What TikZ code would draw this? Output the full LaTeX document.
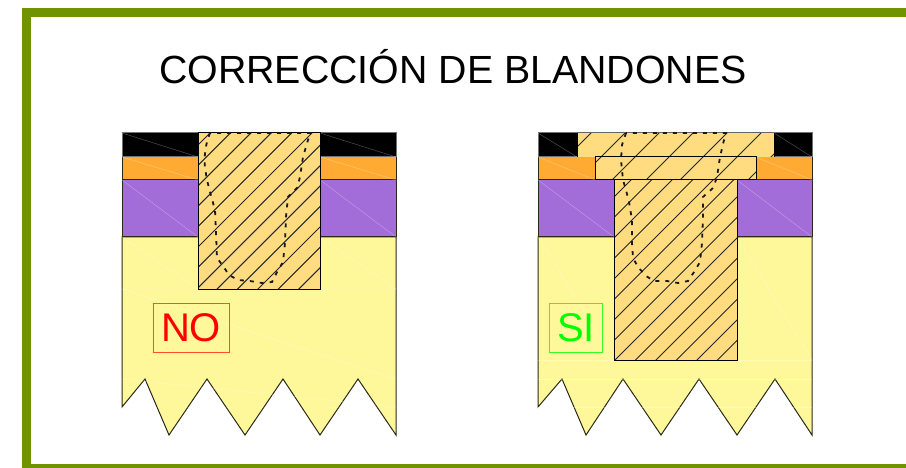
\documentclass[tikz,border=0pt]{standalone}
\usepackage{fontspec}
\setmainfont{Liberation Sans}
\definecolor{frameg}{HTML}{6F9400}
\definecolor{yel}{HTML}{FEF89A}
\definecolor{ora}{HTML}{FFAB33}
\definecolor{pur}{HTML}{A36DD9}
\definecolor{plug}{HTML}{FFDC80}
\definecolor{edge}{HTML}{2A2A1A}
\tikzset{
 layer/.style={draw=edge,line width=1pt},
 plugbox/.style={fill=plug},
 hatchline/.style={draw=black!85,line width=1pt},
 holeline/.style={draw=black!90,line width=1.8pt,dash pattern=on 4pt off 6pt},
 seam/.style={draw=white,line width=0.5pt,opacity=0.3},
 labelbox/.style={draw,line width=1pt,inner sep=0pt,minimum height=49pt,font=\fontsize{40}{40}\selectfont}
}
\begin{document}
\begin{tikzpicture}[x=1pt,y=-1pt]
\useasboundingbox (0,0) rectangle (906,468);
% frame
\fill[frameg] (22,8) rectangle (906,17.5);
\fill[frameg] (22,8) rectangle (31,468);
\fill[frameg] (22,464) rectangle (906,468);
\node[inner sep=0pt,font=\fontsize{39.3}{40}\selectfont] (title) at (453,66.5) {CORRECCIÓN DE BLANDONES};
% LEFT block
\filldraw[layer,fill=yel] (122,237) -- (122,407) -- (145,379) -- (169,435) -- (207,379) -- (245,435) -- (283,379) -- (320,435) -- (358,379) -- (396,435) -- (396,237) -- cycle;
\filldraw[layer,fill=pur] (122,180) rectangle (396,237);
\filldraw[layer,fill=ora] (122,157) rectangle (396,180);
\filldraw[layer,draw=black!55,fill=black] (122,133) rectangle (396,157);
\draw[seam] (122,237) -- (198,289) (122,133) -- (198,157) (122,157) -- (198,180) (122,180) -- (198,237);
\draw[seam] (320,133) -- (396,157) (320,157) -- (396,180) (320,180) -- (396,237) (320,237) -- (396,289);
\draw[seam] (122,289) -- (396,289) (122,289) -- (396,379) (122,379) -- (396,407) (122,407) -- (396,407);
% left plug
\fill[plugbox] (198,133) rectangle (320.5,289);
\begin{scope}
\clip (198,133) rectangle (320.5,289);
\foreach \k in {0,...,12}{
 \draw[hatchline] ({343+20.4*\k-100},100) -- ({343+20.4*\k-400},400);
}
\end{scope}
\draw[layer,draw=black] (198,133) rectangle (320.5,289);
\draw[holeline] (210,133) .. controls (205,145) and (204,158) .. (205,168) -- (207,180) -- (210,192) -- (215,210) -- (216,233) -- (217,258) -- (223,266) -- (229,275) -- (238,280) -- (250,281) -- (262,283) -- (272,282) -- (277,272) -- (283,262) -- (285,243) -- (286,217) -- (288,197) -- (297,188) -- (300,177) -- (303,157) -- (308,140) -- (311,133) -- cycle;
% RIGHT block
\filldraw[layer,fill=yel] (538,237) -- (538,407) -- (562,379) -- (586,435) -- (623,379) -- (661,435) -- (699,379) -- (737,435) -- (775,379) -- (812,435) -- (812,237) -- cycle;
\filldraw[layer,fill=pur] (538,180) rectangle (812,237);
\filldraw[layer,fill=ora] (538,157) rectangle (812,180);
\filldraw[layer,draw=black!55,fill=black] (538,133) rectangle (812,157);
\draw[seam] (538,133) -- (577,157) (538,157) -- (595,180) (538,180) -- (614,237) (538,237) -- (614,360);
\draw[seam] (774,133) -- (812,157) (756,157) -- (812,180) (737,180) -- (812,237) (737,237) -- (812,360);
\draw[seam] (538,360) -- (812,360) (538,379) -- (812,379) (538,407) -- (812,407);
% right plug
\fill[plugbox] (614,180) rectangle (737,360);
\fill[plugbox] (595,157) rectangle (756,180);
\fill[plugbox] (577,133) rectangle (774,157);
\begin{scope}
\clip (614,180) rectangle (737,360);
\foreach \k in {0,...,13}{
 \draw[hatchline] ({811+20.5*\k-100},100) -- ({811+20.5*\k-400},400);
}
\end{scope}
\begin{scope}
\clip (577,133) rectangle (774,157) (595,157) rectangle (756,180);
\foreach \k in {0,...,6}{
 \draw[hatchline] ({724+34*\k-100},100) -- ({724+34*\k-400},400);
}
\end{scope}
\draw[layer,draw=black] (614,180) rectangle (737,360);
\draw[layer,draw=black] (595,157) rectangle (756,180);
\draw[layer,draw=black!60] (577,133) -- (774,133);
\draw[layer,draw=black] (577,133) -- (577,157) (774,133) -- (774,157);
\draw[holeline] (626,133) -- (622,145) -- (621,160) -- (623,180) -- (626,190) -- (629,202) -- (632,220) -- (632,243) -- (633,258) -- (638,267) -- (646,276) -- (654,281) -- (667,281) -- (678,283) -- (688,281) -- (694,272) -- (700,262) -- (702,243) -- (703,217) -- (703,197) -- (713,188) -- (717,177) -- (720,157) -- (724,140) -- (726,133) -- cycle;
% labels
\node[labelbox,draw={rgb,255:red,255;green,80;blue,40},text=red,minimum width=76pt] (no) at (191,327.5) {NO};
\node[labelbox,draw={rgb,255:red,60;green,250;blue,40},text={rgb,255:red,0;green,255;blue,0},minimum width=53pt] (si) at (575.5,327.5) {\hspace{1pt}SI};
\end{tikzpicture}
\end{document}
